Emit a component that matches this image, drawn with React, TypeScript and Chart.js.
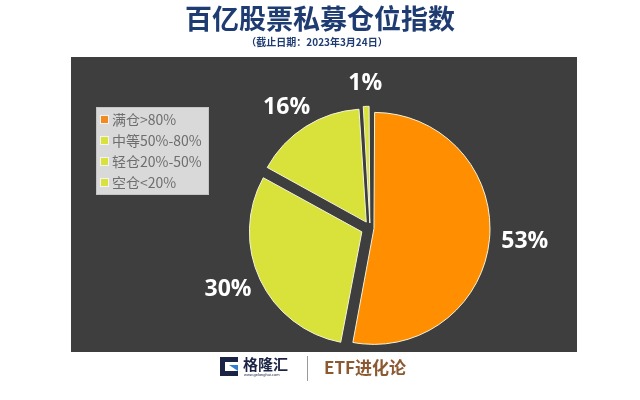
import React, { useEffect, useRef } from 'react';
import { Chart, registerables } from 'chart.js';

Chart.register(...registerables);

const TITLE = '百亿股票私募仓位指数';
const SUBTITLE = '（截止日期：2023年3月24日）';
const CATEGORIES = ['满仓>80%', '中等50%-80%', '轻仓20%-50%', '空仓<20%'];
const VALUES = [53, 30, 16, 1];
const VALUE_LABELS = ['53%', '30%', '16%', '1%'];
const BRAND = '格隆汇';
const BRAND_URL = 'www.gelonghui.com';
const COLUMN_NAME = 'ETF进化论';

const SLICE_COLORS = ['#FF8E00', '#D9E13B', '#D9E13B', '#D9E13B'];
// Chart.js draws arcs shifted by offset / 4
const SLICE_OFFSETS = [16, 36, 28, 20];

const CJK = '"Noto Sans CJK SC", "Noto Sans", sans-serif';

const decorPlugin = {
  id: 'decor',
  beforeDraw(chart: any) {
    const ctx = chart.ctx as CanvasRenderingContext2D;
    ctx.save();
    ctx.fillStyle = '#ffffff';
    ctx.fillRect(0, 0, 640, 400);
    // dark panel
    ctx.fillStyle = '#3e3e3e';
    ctx.fillRect(71, 57, 506, 295);
    // title
    ctx.textAlign = 'center';
    ctx.textBaseline = 'middle';
    ctx.fillStyle = '#1F3C72';
    ctx.font = `bold 27px ${CJK}`;
    ctx.fillText(TITLE, 320, 19);
    ctx.font = `bold 10px ${CJK}`;
    ctx.fillText(SUBTITLE, 317, 42);

    // footer logo icon
    ctx.fillStyle = '#1b2444';
    ctx.beginPath();
    ctx.moveTo(220, 357);
    ctx.lineTo(238, 357);
    ctx.lineTo(238, 362);
    ctx.lineTo(225, 362);
    ctx.lineTo(225, 371);
    ctx.lineTo(238, 371);
    ctx.lineTo(238, 376);
    ctx.lineTo(220, 376);
    ctx.closePath();
    ctx.fill();
    ctx.fillStyle = '#2f7fd0';
    ctx.beginPath();
    ctx.moveTo(229, 365);
    ctx.lineTo(238, 365);
    ctx.lineTo(238, 371);
    ctx.closePath();
    ctx.fill();
    ctx.fillStyle = '#1b2444';
    ctx.textAlign = 'left';
    ctx.font = `bold 15px ${CJK}`;
    ctx.fillText(BRAND, 243, 364);
    ctx.font = `4px sans-serif`;
    ctx.fillText(BRAND_URL, 244, 375);
    // divider
    ctx.strokeStyle = '#9a9a9a';
    ctx.lineWidth = 1;
    ctx.beginPath();
    ctx.moveTo(307.5, 356);
    ctx.lineTo(307.5, 381);
    ctx.stroke();
    ctx.fillStyle = '#8B5A32';
    ctx.font = `bold 17px ${CJK}`;
    ctx.fillText(COLUMN_NAME, 324, 368);
    ctx.restore();
  },
  afterDatasetsDraw(chart: any) {
    const ctx = chart.ctx as CanvasRenderingContext2D;
    const meta = chart.getDatasetMeta(0);
    ctx.save();
    ctx.fillStyle = '#ffffff';
    ctx.font = 'bold 23px "Open Sans", "Noto Sans", sans-serif';
    ctx.textAlign = 'center';
    ctx.textBaseline = 'middle';
    meta.data.forEach((arc: any, i: number) => {
      const p = arc.getProps(['x', 'y', 'startAngle', 'endAngle', 'outerRadius', 'circumference'], true);
      const mid = (p.startAngle + p.endAngle) / 2;
      const e = (SLICE_OFFSETS[i] || 0) / 4;
      const fix = 1 - Math.sin(Math.min(Math.PI, p.circumference || 0));
      const text = VALUE_LABELS[i];
      const w = ctx.measureText(text).width;
      const h = 22;
      const cos = Math.cos(mid);
      const sin = Math.sin(mid);
      const r = p.outerRadius + e * fix + e + 12;
      const x = p.x + cos * r + cos * w / 2;
      const y = p.y + sin * r + sin * h / 2;
      ctx.fillText(text, x, y);
    });
    ctx.restore();
  },
  afterDraw(chart: any) {
    const ctx = chart.ctx as CanvasRenderingContext2D;
    ctx.save();
    // legend box
    ctx.fillStyle = '#d9d9d9';
    ctx.fillRect(96, 107, 113, 88);
    ctx.strokeStyle = '#c4c4c4';
    ctx.lineWidth = 1;
    ctx.strokeRect(96.5, 107.5, 112, 87);
    ctx.font = `14px ${CJK}`;
    ctx.textAlign = 'left';
    ctx.textBaseline = 'middle';
    CATEGORIES.forEach((label, i) => {
      const cy = 119.5 + i * 21;
      ctx.fillStyle = i === 0 ? '#F28A1E' : '#D9E13B';
      ctx.fillRect(101, cy - 3.5, 7, 7);
      ctx.strokeStyle = '#f3f3f3';
      ctx.strokeRect(100.5, cy - 4, 8, 8);
      ctx.fillStyle = '#6e6e6e';
      ctx.fillText(label, 112, cy);
    });
    ctx.restore();
  },
};

export default function App() {
  const canvasRef = useRef<HTMLCanvasElement | null>(null);

  useEffect(() => {
    const canvas = canvasRef.current;
    if (!canvas) return;
    const chart = new Chart(canvas, {
      type: 'pie',
      data: {
        labels: CATEGORIES,
        datasets: [
          {
            data: VALUES,
            backgroundColor: SLICE_COLORS,
            borderColor: '#f4f4dc',
            borderWidth: 1,
            offset: SLICE_OFFSETS,
            hoverOffset: 0,
          },
        ],
      },
      options: {
        responsive: false,
        animation: false,
        radius: 112,
        layout: { padding: { left: 100, right: 0, top: 56, bottom: 0 } },
        plugins: {
          legend: { display: false },
          tooltip: { enabled: false },
          title: { display: false },
        },
        events: [],
      } as any,
      plugins: [decorPlugin],
    });
    return () => chart.destroy();
  }, []);

  return (
    <div style={{ position: 'absolute', left: 0, top: 0, width: 640, height: 400 }}>
      <canvas ref={canvasRef} width={640} height={400} style={{ display: 'block' }} />
    </div>
  );
}
